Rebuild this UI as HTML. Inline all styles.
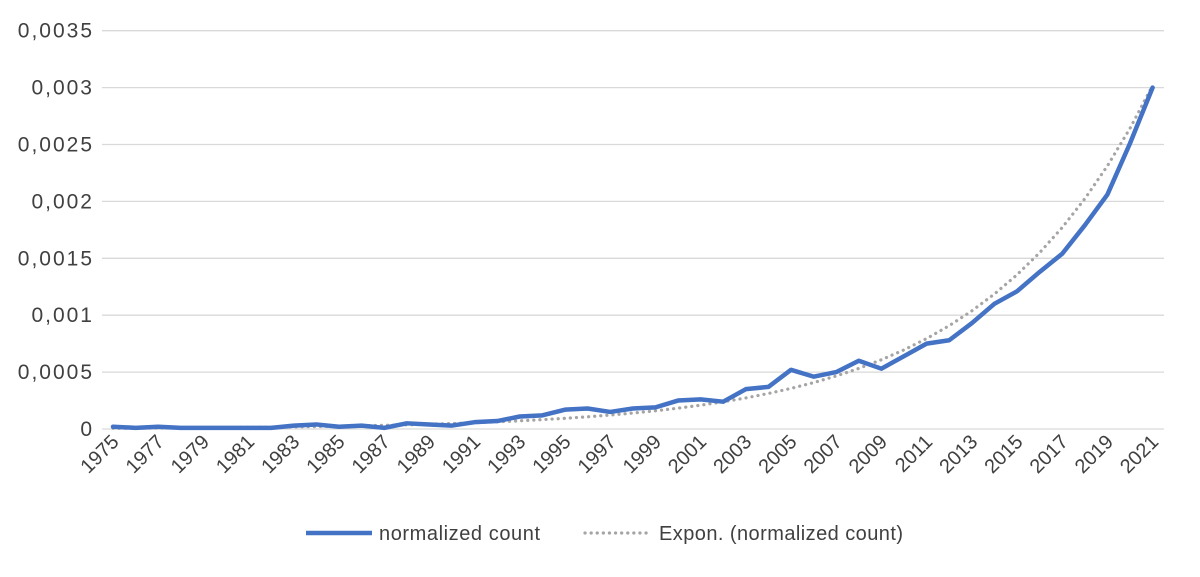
<!DOCTYPE html><html><head><style>body{margin:0;background:#fff}svg{font-family:"Liberation Sans",sans-serif}</style></head><body>
<svg width="1200" height="572" xmlns="http://www.w3.org/2000/svg" id="s">
<g id="grid" stroke="#d9d9d9" stroke-width="1.3"></g>
<g id="yl" font-size="21" fill="#404040" text-anchor="end" letter-spacing="2"></g>
<g id="xl" font-size="20" fill="#404040" text-anchor="end"></g>
<polyline id="tr" fill="none" stroke="#a5a5a5" stroke-width="3.2" stroke-dasharray="0.1 6" stroke-linecap="round"/>
<polyline id="dl" fill="none" stroke="#4472c4" stroke-width="4.5" stroke-linejoin="round" stroke-linecap="round"/>
<line x1="306" y1="533" x2="372" y2="533" stroke="#4472c4" stroke-width="4.5"/>
<text x="379" y="540" font-size="20" fill="#404040" textLength="161">normalized count</text>
<line x1="585" y1="533" x2="650" y2="533" stroke="#a5a5a5" stroke-width="3.2" stroke-dasharray="0.1 6" stroke-linecap="round"/>
<text x="659" y="540" font-size="20" fill="#404040" textLength="244">Expon. (normalized count)</text>
</svg>
<script>
var ns="http://www.w3.org/2000/svg";
function el(p,t,a,txt){var e=document.createElementNS(ns,t);for(var k in a)e.setAttribute(k,a[k]);if(txt)e.textContent=txt;document.getElementById(p).appendChild(e);}
function Y(v){return 429-v*56.9/5;}function X(i){return 113+i*22.6;}
var yl=["0","0,0005","0,001","0,0015","0,002","0,0025","0,003","0,0035"];
for(var i=0;i<8;i++){var y=429-i*56.9;el("grid","line",{x1:102,x2:1164,y1:y,y2:y});el("yl","text",{x:94,y:y+7},yl[i]);}
for(var i=0;i<47;i+=2){var x=X(i)+7,y=443;el("xl","text",{x:x,y:y,transform:"rotate(-45 "+x+" "+y+")"},String(1975+i));}
var d=[0.2,0.1,0.2,0.1,0.1,0.1,0.1,0.1,0.3,0.4,0.2,0.3,0.1,0.5,0.4,0.3,0.6,0.7,1.1,1.2,1.7,1.8,1.5,1.8,1.9,2.5,2.6,2.4,3.5,3.7,5.2,4.6,5.0,6.0,5.3,6.4,7.5,7.8,9.3,11.0,12.1,13.8,15.4,17.9,20.6,25.1,30.0];
var p=[],q=[];for(var i=0;i<d.length;i++){p.push(X(i)+","+Y(d[i]));q.push(X(i)+","+Y(0.065*Math.exp(0.1335*i)));}
document.getElementById("dl").setAttribute("points",p.join(" "));
document.getElementById("tr").setAttribute("points",q.join(" "));
</script></body></html>
